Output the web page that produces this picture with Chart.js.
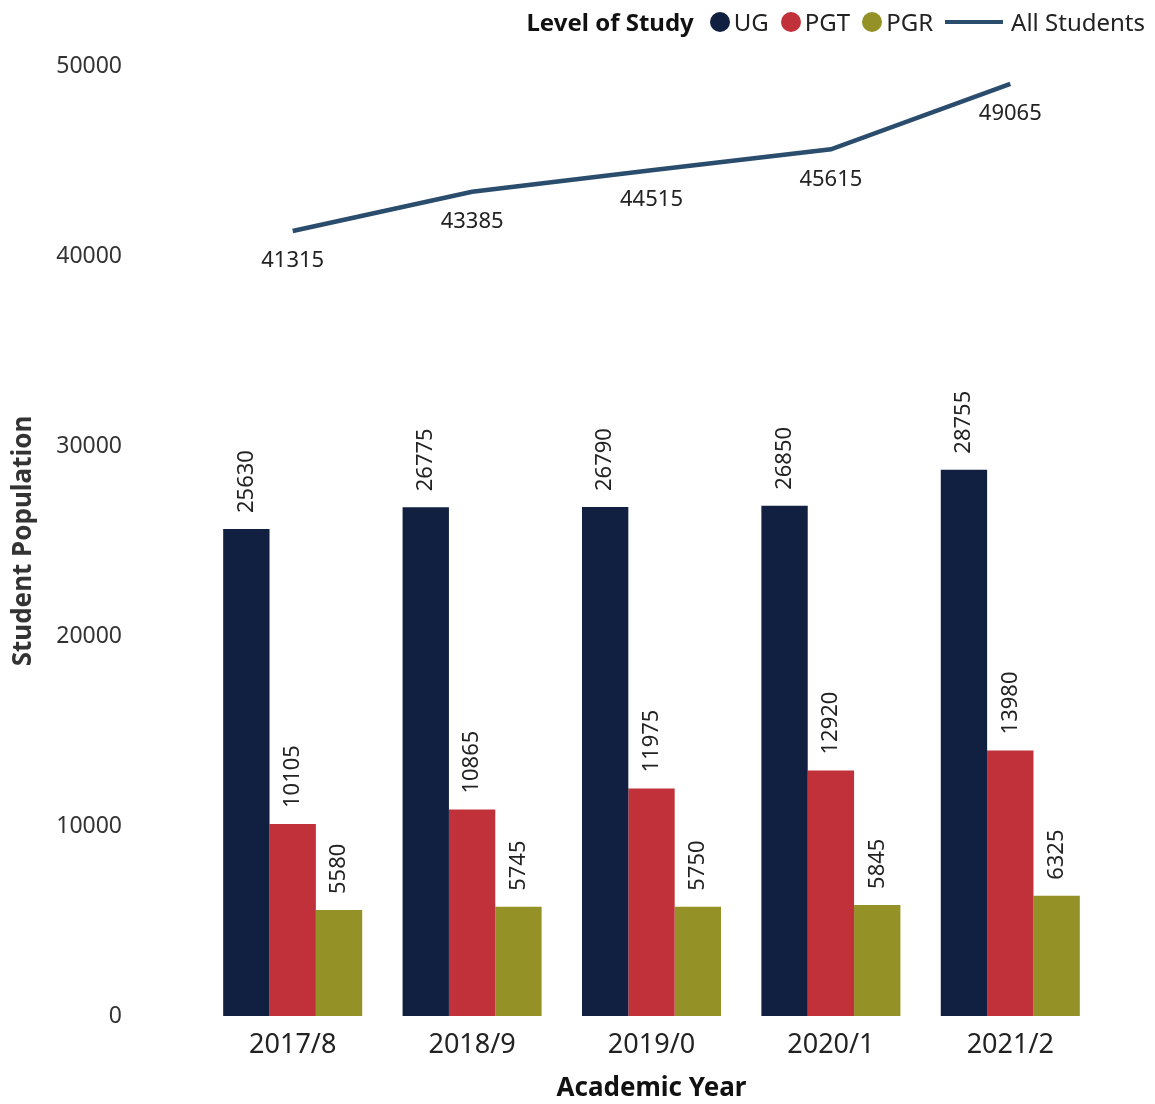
<!DOCTYPE html>
<html>
<head>
<meta charset="utf-8">
<script src="https://cdn.jsdelivr.net/npm/chart.js@4"></script>
<style>
  body { margin: 0; background: #fff; font-family: "Noto Sans", sans-serif; }
  #wrap { position: relative; width: 1155px; height: 1104px; }
  #legend { position: absolute; right: 10px; top: 5px; display: flex; align-items: center; font-size: 24px; color: #222; }
  #legend b { margin-right: 16px; color: #111; }
  #legend .it { display: flex; align-items: center; margin-right: 12px; }
  #legend .dot { width: 20px; height: 20px; border-radius: 50%; margin-right: 4px; }
  #legend .ln { width: 58px; height: 4px; margin-right: 8px; }
</style>
</head>
<body>
<div id="wrap">
  <canvas id="grafico" width="1155" height="1104"></canvas>
  <div id="legend"></div>
</div>
<script>
// dados
var anos = ['2017/8', '2018/9', '2019/0', '2020/1', '2021/2']
var ug = [25630, 26775, 26790, 26850, 28755]
var pgt = [10105, 10865, 11975, 12920, 13980]
var pgr = [5580, 5745, 5750, 5845, 6325]
var todos = [41315, 43385, 44515, 45615, 49065]

var cores = { ug: '#111f40', pgt: '#c0313a', pgr: '#949126', todos: '#2a4d6e' }

// legenda em html
function monta_legenda(){
    var html = '<b>Level of Study</b>'
    html += '<span class="it"><span class="dot" style="background:' + cores.ug + '"></span>UG</span>'
    html += '<span class="it"><span class="dot" style="background:' + cores.pgt + '"></span>PGT</span>'
    html += '<span class="it"><span class="dot" style="background:' + cores.pgr + '"></span>PGR</span>'
    html += '<span class="it" style="margin-right:0"><span class="ln" style="background:' + cores.todos + '"></span>All Students</span>'
    document.getElementById('legend').innerHTML = html
}
monta_legenda()

// rotulos dos valores
const rotulos = {
    id: 'rotulos',
    afterDatasetsDraw(chart) {
        const ctx = chart.ctx
        chart.data.datasets.forEach(function(ds, i) {
            const meta = chart.getDatasetMeta(i)
            meta.data.forEach(function(el, j) {
                ctx.save()
                ctx.fillStyle = '#222'
                ctx.font = '22px "Noto Sans"'
                if (ds.type === 'line') {
                    ctx.textAlign = 'center'
                    ctx.textBaseline = 'middle'
                    ctx.fillText(ds.data[j], el.x, el.y + 30)
                } else {
                    ctx.translate(el.x, el.y - 16)
                    ctx.rotate(-Math.PI / 2)
                    ctx.textAlign = 'left'
                    ctx.textBaseline = 'middle'
                    ctx.fillText(ds.data[j], 0, 0)
                }
                ctx.restore()
            })
        })
    }
}

const ctx = document.getElementById('grafico').getContext('2d')
const myChart = new Chart(ctx, {
    type: 'bar',
    data: {
        labels: anos,
        datasets: [
            { type: 'line', label: 'All Students', data: todos, borderColor: cores.todos, borderWidth: 4.5, pointRadius: 0, tension: 0, order: 0 },
            { label: 'UG', data: ug, backgroundColor: cores.ug, order: 1 },
            { label: 'PGT', data: pgt, backgroundColor: cores.pgt, order: 1 },
            { label: 'PGR', data: pgr, backgroundColor: cores.pgr, order: 1 }
        ]
    },
    options: {
        responsive: false,
        animation: false,
        datasets: { bar: { categoryPercentage: 0.775, barPercentage: 1.0 } },
        layout: { padding: { top: 66, right: 55, left: 0, bottom: 0 } },
        plugins: { legend: { display: false }, tooltip: { enabled: false } },
        scales: {
            x: {
                grid: { display: false },
                border: { display: false },
                ticks: { color: '#222', font: { family: 'Noto Sans', size: 27 }, padding: 5 },
                title: { display: true, text: 'Academic Year', color: '#111', font: { family: 'Noto Sans', size: 26, weight: 'bold' }, padding: { top: 0, bottom: 0 } },
                afterFit: function(scale) { scale.height = 88 }
            },
            y: {
                min: 0, max: 50000,
                grid: { display: false },
                border: { display: false },
                ticks: { stepSize: 10000, color: '#333', font: { family: 'Noto Sans', size: 23 }, padding: 73,
                    callback: function(v) { return String(v) } },
                title: { display: true, text: 'Student Population', color: '#333', font: { family: 'Noto Sans', size: 26, weight: 'bold' }, padding: { top: 8, bottom: 0 } },
                afterFit: function(scale) {
                    scale.width = 203
                    scale.paddingTop = 14
                    scale.paddingBottom = 14
                }
            }
        }
    },
    plugins: [rotulos]
})
</script>
</body>
</html>
